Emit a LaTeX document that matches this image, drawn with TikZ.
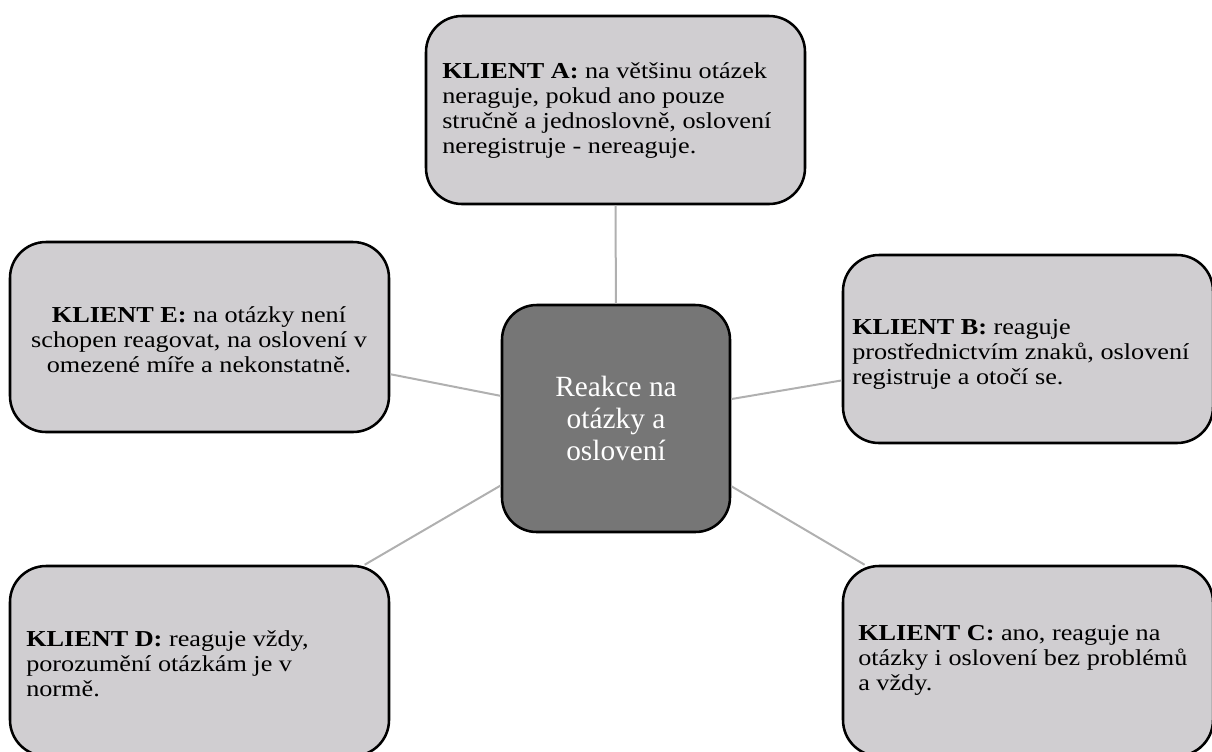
\documentclass[tikz,border=0pt]{standalone}
\usepackage{fontspec}
\setmainfont{Liberation Serif}
% box texts are set a little wider than the hub text
\newfontfamily\boxfont{Liberation Serif}[FakeStretch=1.15]
\begin{document}
\begin{tikzpicture}[x=0.75pt,y=-0.75pt,
  box/.style={draw=black,line width=1.9pt,fill=boxgray,rounded corners=27pt,
    inner sep=0pt,rectangle},
  hub/.style={draw=black,line width=1.9pt,fill=hubgray,rounded corners=26pt,
    inner sep=0pt,rectangle,text=white,align=center,
    font=\fontsize{22}{24}\selectfont},
  label/.style={inner sep=0pt,font=\boxfont\fontsize{17.1}{18.75}\selectfont,text=black},
  link/.style={draw=linkgray,line width=1.5pt}]
\definecolor{boxgray}{RGB}{208,206,209}
\definecolor{hubgray}{RGB}{118,118,118}
\definecolor{linkgray}{RGB}{176,176,176}
\useasboundingbox (0,0) rectangle (1212,751);
\clip (0,0) rectangle (1212,751);

% hub and the five client boxes
\node[hub,minimum width=171pt,minimum height=170.25pt] (hub) at (616,418.5)
  {Reakce na\\otázky a\\oslovení};
\node[box,minimum width=284.25pt,minimum height=141pt] (A) at (615.5,110) {};
\node[box,minimum width=277.5pt,minimum height=141pt] (B) at (1028,349) {};
\node[box,minimum width=277.5pt,minimum height=142.5pt] (C) at (1028,661) {};
\node[box,minimum width=284.25pt,minimum height=142.5pt] (D) at (199.5,661) {};
\node[box,minimum width=284.25pt,minimum height=142.5pt] (E) at (199.5,337) {};

% connectors from the hub to each client
\draw[link] (hub) -- (A);
\draw[link] (hub) -- (B);
\draw[link] (hub) -- (C);
\draw[link] (hub) -- (D);
\draw[link] (hub) -- (E);

% box texts
\node[label,anchor=west,align=left] (At) at (442,111)
  {\textbf{KLIENT A:} na většinu otázek\\neraguje, pokud ano pouze\\stručně a jednoslovně, oslovení\\neregistruje - nereaguje.};
\node[label,anchor=west,align=left] (Bt) at (852,354)
  {\textbf{KLIENT B:} reaguje\\prostřednictvím znaků, oslovení\\registruje a otočí se.};
\node[label,anchor=west,align=left] (Ct) at (858,660)
  {\textbf{KLIENT C:} ano, reaguje na\\otázky i oslovení bez problémů\\a vždy.};
\node[label,anchor=west,align=left] (Dt) at (26,664)
  {\textbf{KLIENT D:} reaguje vždy,\\porozumění otázkám je v\\normě.};
\node[label,align=center] (Et) at (199,340)
  {\textbf{KLIENT E:} na otázky není\\schopen reagovat, na oslovení v\\omezené míře a nekonstatně.};
\end{tikzpicture}
\end{document}
